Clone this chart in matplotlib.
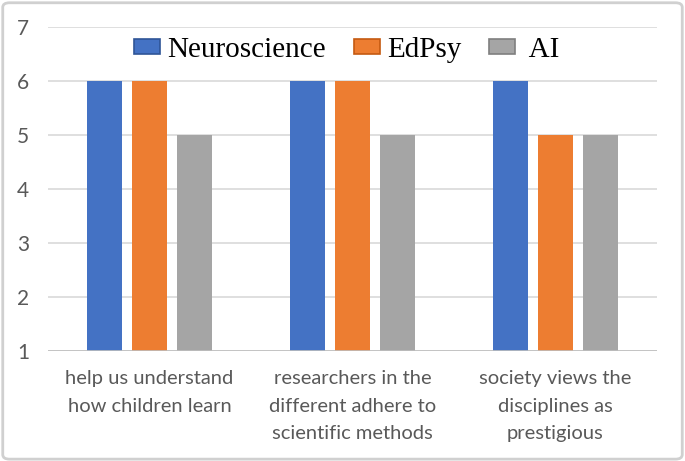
import matplotlib
matplotlib.use("Agg")
import matplotlib.pyplot as plt
import numpy as np
from matplotlib.patches import FancyBboxPatch, Patch

categories = ["help us understand\nhow children learn",
              "researchers in the\ndifferent adhere to\nscientific methods",
              "society views the\ndisciplines as\nprestigious"]
series_names = ["Neuroscience", "EdPsy", " AI"]
neuro = [6, 6, 6]
edpsy = [6, 6, 5]
ai = [5, 5, 5]
colors = ["#4472C4", "#ED7D31", "#A5A5A5"]
edge_colors = ["#2F5597", "#C55A11", "#7F7F7F"]

fig = plt.figure(figsize=(6.85, 4.61), dpi=100)
ax = fig.add_axes([48/685, 1-351/461, (657-48)/685, (351-27)/461])

x = np.arange(len(categories))
width = 0.172
step = 0.222
for i, (vals, c) in enumerate(zip([neuro, edpsy, ai], colors)):
    ax.bar(x + (i-1)*step, np.array(vals) - 1, width, bottom=1, color=c,
           label=series_names[i], zorder=3)

ax.set_ylim(1, 7)
ax.set_xlim(-0.5, 2.5)
ax.set_yticks(range(1, 8))
ax.yaxis.grid(True, color="#D9D9D9", linewidth=1.2, zorder=0)
ax.axhline(1, color="#BFBFBF", linewidth=1.2, zorder=4)
for s in ax.spines.values():
    s.set_visible(False)
ax.tick_params(axis="both", length=0)
ax.set_xticks(x)
ax.set_xticklabels(categories)
ax.tick_params(axis="x", pad=14)
ax.tick_params(axis="y", pad=13.5)
for lbl in ax.get_xticklabels():
    lbl.set_fontfamily("Lato")
    lbl.set_fontsize(14.5)
    lbl.set_color("#595959")
    lbl.set_linespacing(1.75)
for lbl in ax.get_yticklabels():
    lbl.set_fontfamily("Lato")
    lbl.set_fontsize(15)
    lbl.set_color("#595959")

handles = [Patch(facecolor=c, edgecolor=e, linewidth=1.2) for c, e in zip(colors, edge_colors)]
leg = ax.legend(handles, series_names, loc="center", bbox_to_anchor=(0.49, 1-(50-27)/324),
                ncol=3, frameon=False, prop={"family": "Liberation Serif", "size": 21},
                handlelength=0.9, handleheight=0.45, handletextpad=0.25, columnspacing=0.95)

border = FancyBboxPatch((0.004, 0.004), 0.992, 0.99, boxstyle="round,pad=0,rounding_size=0.01",
                        transform=fig.transFigure, facecolor="none", edgecolor="#D0D0D0",
                        linewidth=2, zorder=10)
fig.patches.append(border)

fig.savefig("out.png", dpi=100)
